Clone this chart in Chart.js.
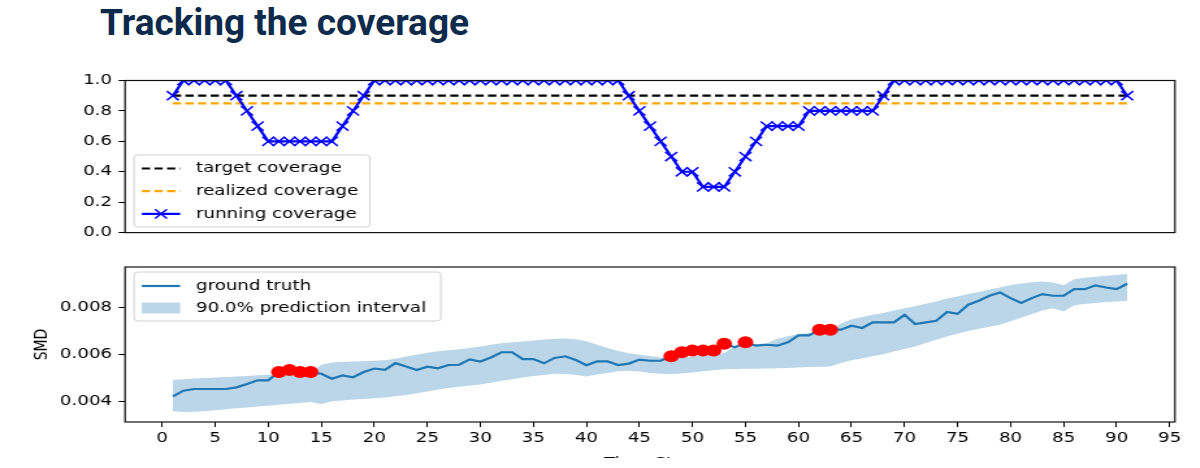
<!DOCTYPE html>
<html>
<head>
<meta charset="utf-8">
<title>Tracking the coverage</title>
<script src="https://cdn.jsdelivr.net/npm/chart.js@4.4.1/dist/chart.umd.min.js"></script>
<style>
  html, body { margin: 0; padding: 0; background: #fff; overflow: hidden; }
  body { width: 1200px; height: 468px; position: relative; }
  h1 {
    position: absolute; left: 100px; top: 1px; margin: 0;
    font: bold 37px Roboto, sans-serif; color: #0c2a4c; white-space: nowrap;
  }
  /* the original figure is stretched sideways on the slide */
  .stretch {
    position: absolute; left: 0; width: 923px; overflow: hidden;
    transform: scaleX(1.3); transform-origin: 0 0;
  }
  #topBox { top: 60px; height: 186px; }
  #botBox { top: 250px; height: 208px; }
  canvas { display: block; }
</style>
</head>
<body>
<h1>Tracking the coverage</h1>
<div class="stretch" id="topBox"><canvas id="chartTop" width="923" height="186"></canvas></div>
<div class="stretch" id="botBox"><canvas id="chartBot" width="923" height="230"></canvas></div>

<script>
// time steps
const steps = [
  1, 2, 3, 4, 5, 6, 7, 8, 9, 10, 11, 12, 13, 14, 15, 16, 17, 18, 19, 20,
  21, 22, 23, 24, 25, 26, 27, 28, 29, 30, 31, 32, 33, 34, 35, 36, 37, 38, 39, 40,
  41, 42, 43, 44, 45, 46, 47, 48, 49, 50, 51, 52, 53, 54, 55, 56, 57, 58, 59, 60,
  61, 62, 63, 64, 65, 66, 67, 68, 69, 70, 71, 72, 73, 74, 75, 76, 77, 78, 79, 80,
  81, 82, 83, 84, 85, 86, 87, 88, 89, 90, 91,
];

const targetCoverage = 0.9;
const realizedCoverage = 0.85;

const runningCoverage = [
  0.9, 1.0, 1.0, 1.0, 1.0, 1.0, 0.9, 0.8, 0.7, 0.6,
  0.6, 0.6, 0.6, 0.6, 0.6, 0.6, 0.7, 0.8, 0.9, 1.0,
  1.0, 1.0, 1.0, 1.0, 1.0, 1.0, 1.0, 1.0, 1.0, 1.0,
  1.0, 1.0, 1.0, 1.0, 1.0, 1.0, 1.0, 1.0, 1.0, 1.0,
  1.0, 1.0, 1.0, 0.9, 0.8, 0.7, 0.6, 0.5, 0.4, 0.4,
  0.3, 0.3, 0.3, 0.4, 0.5, 0.6, 0.7, 0.7, 0.7, 0.7,
  0.8, 0.8, 0.8, 0.8, 0.8, 0.8, 0.8, 0.9, 1.0, 1.0,
  1.0, 1.0, 1.0, 1.0, 1.0, 1.0, 1.0, 1.0, 1.0, 1.0,
  1.0, 1.0, 1.0, 1.0, 1.0, 1.0, 1.0, 1.0, 1.0, 1.0,
  0.9,
];

const groundTruth = [
  0.00421, 0.00445, 0.00452, 0.00452, 0.00452, 0.00452, 0.00459, 0.00473, 0.00489, 0.00489,
  0.00524, 0.00533, 0.00524, 0.00524, 0.00517, 0.00496, 0.0051, 0.00502, 0.00524, 0.00539,
  0.00533, 0.00562, 0.00548, 0.00533, 0.00547, 0.0054, 0.00554, 0.00555, 0.00578, 0.00569,
  0.00586, 0.00608, 0.00608, 0.00579, 0.00579, 0.00561, 0.00584, 0.00591, 0.00575, 0.00553,
  0.00569, 0.00569, 0.00554, 0.0056, 0.00577, 0.00572, 0.00572, 0.00591, 0.00608, 0.00615,
  0.00615, 0.00615, 0.00644, 0.00629, 0.00651, 0.00636, 0.0064, 0.00636, 0.0065, 0.0068,
  0.0068, 0.00704, 0.00704, 0.00704, 0.00721, 0.00711, 0.00735, 0.00735, 0.00735, 0.00767,
  0.00728, 0.00735, 0.00742, 0.00779, 0.00771, 0.0081, 0.00827, 0.00848, 0.00862, 0.00838,
  0.00817, 0.00838, 0.00855, 0.00848, 0.00848, 0.00876, 0.00876, 0.00892, 0.00883, 0.00876,
  0.00899,
];

const intervalUpper = [
  0.0049, 0.00493, 0.00497, 0.00499, 0.00501, 0.00503, 0.00505, 0.00507, 0.0051, 0.00513,
  0.00515, 0.00517, 0.00518, 0.0052, 0.00555, 0.00565, 0.00567, 0.00569, 0.0057, 0.00572,
  0.00574, 0.0058, 0.0059, 0.00598, 0.00606, 0.00612, 0.00617, 0.00621, 0.00626, 0.00632,
  0.0064, 0.00646, 0.00651, 0.00654, 0.00658, 0.00662, 0.00665, 0.00666, 0.00663, 0.00655,
  0.0064, 0.00626, 0.00613, 0.00604, 0.00598, 0.00592, 0.00586, 0.00584, 0.00586, 0.0059,
  0.00594, 0.00598, 0.00605, 0.00633, 0.00636, 0.00642, 0.00646, 0.00665, 0.00676, 0.00686,
  0.0069, 0.00694, 0.007, 0.0073, 0.00748, 0.00758, 0.00767, 0.00775, 0.00785, 0.00795,
  0.00803, 0.00814, 0.00824, 0.00836, 0.00845, 0.00855, 0.00864, 0.00874, 0.00883, 0.00894,
  0.009, 0.00905, 0.00908, 0.00904, 0.00892, 0.00918, 0.00924, 0.00929, 0.00933, 0.00936,
  0.0094,
];

const intervalLower = [
  0.00358, 0.00354, 0.00355, 0.00358, 0.00362, 0.00366, 0.0037, 0.00374, 0.00378, 0.00381,
  0.00385, 0.00389, 0.00393, 0.00397, 0.00388, 0.004, 0.00403, 0.00407, 0.0041, 0.00413,
  0.00416, 0.00421, 0.00427, 0.00434, 0.00442, 0.0045, 0.00456, 0.00462, 0.00467, 0.00471,
  0.00479, 0.00487, 0.00494, 0.00501, 0.00507, 0.00512, 0.00517, 0.00516, 0.00513, 0.00505,
  0.00514, 0.0052, 0.00527, 0.0053, 0.00526, 0.0052, 0.00517, 0.00516, 0.00518, 0.00522,
  0.00527, 0.00532, 0.00536, 0.00537, 0.00538, 0.00538, 0.00539, 0.0054, 0.00541, 0.00543,
  0.00546, 0.00547, 0.00548, 0.00562, 0.00574, 0.00582, 0.00592, 0.006, 0.00611, 0.00622,
  0.00633, 0.00647, 0.00661, 0.00675, 0.00687, 0.00698, 0.00708, 0.00716, 0.00725, 0.0074,
  0.00755, 0.0077, 0.00785, 0.00795, 0.00781, 0.00808, 0.00813, 0.00817, 0.00821, 0.00824,
  0.00827,
];

// steps where the ground truth falls outside the interval (red dots)
const missSteps = [11, 12, 13, 14, 48, 49, 50, 51, 52, 53, 55, 62, 63];

const xTicks = [0, 5, 10, 15, 20, 25, 30, 35, 40, 45, 50, 55, 60, 65, 70, 75, 80, 85, 90, 95];
const coverageTicks = [0, 0.2, 0.4, 0.6, 0.8, 1.0];
const smdTicks = [0.004, 0.006, 0.008];

const pts = (ys) => steps.map((x, i) => ({ x, y: ys[i] }));

Chart.defaults.font.family = "'DejaVu Sans', sans-serif";
Chart.defaults.font.size = 14;
Chart.defaults.color = "#000";
Chart.defaults.animation = false;

// axes box + matplotlib style legend
const frameLegend = {
  id: "frameLegend",
  afterDraw(chart, args, opts) {
    const { ctx, chartArea: a } = chart;
    ctx.save();
    ctx.strokeStyle = "#111";
    ctx.lineWidth = 1.2;
    ctx.strokeRect(a.left, a.top, a.right - a.left, a.bottom - a.top);

    const bx = a.left + opts.dx;
    const by = a.top + opts.dy;
    ctx.beginPath();
    if (ctx.roundRect) ctx.roundRect(bx, by, opts.w, opts.h, 3);
    else ctx.rect(bx, by, opts.w, opts.h);
    ctx.fillStyle = "rgba(255,255,255,0.8)";
    ctx.fill();
    ctx.strokeStyle = "#d0d0d0";
    ctx.lineWidth = 1;
    ctx.stroke();

    const items = chart.data.datasets.filter((d) => d.label);
    items.forEach((d, i) => {
      const cy = by + opts.first + i * opts.rowH;
      const x0 = bx + 6;
      const x1 = bx + 35.5;
      if (d.fill) {
        ctx.fillStyle = d.backgroundColor;
        ctx.fillRect(x0, cy - 5.5, x1 - x0, 11);
      } else {
        ctx.strokeStyle = d.borderColor;
        ctx.lineWidth = d.borderWidth;
        ctx.setLineDash(d.borderDash || []);
        ctx.beginPath();
        ctx.moveTo(x0, cy);
        ctx.lineTo(x1, cy);
        ctx.stroke();
        ctx.setLineDash([]);
        if (d.pointStyle === "crossRot") {
          const r = d.pointRadius * 0.707;
          const cx = (x0 + x1) / 2;
          ctx.lineWidth = d.pointBorderWidth;
          ctx.beginPath();
          ctx.moveTo(cx - r, cy - r);
          ctx.lineTo(cx + r, cy + r);
          ctx.moveTo(cx - r, cy + r);
          ctx.lineTo(cx + r, cy - r);
          ctx.stroke();
        }
      }
      ctx.fillStyle = "#000";
      ctx.font = "14px 'DejaVu Sans', sans-serif";
      ctx.textBaseline = "middle";
      ctx.textAlign = "left";
      ctx.fillText(d.label, bx + opts.textX, cy);
    });
    ctx.restore();
  },
};

const xAxis = (show) => ({
  type: "linear",
  min: -3.5,
  max: 95.5,
  display: show,
  afterBuildTicks: (s) => { s.ticks = xTicks.map((v) => ({ value: v })); },
  grid: { drawOnChartArea: false, drawTicks: true, tickLength: 5, tickColor: "#000" },
  border: { display: false },
  ticks: { padding: 3, maxRotation: 0, autoSkip: false, callback: (v) => String(v) },
});

new Chart(document.getElementById("chartTop"), {
  type: "line",
  data: {
    datasets: [
      {
        label: "target coverage",
        data: [
          { x: steps[0], y: targetCoverage },
          { x: steps[steps.length - 1], y: targetCoverage },
        ],
        borderColor: "#000000",
        borderWidth: 2.2,
        borderDash: [6.4, 3.3],
        pointRadius: 0,
        order: 2,
      },
      {
        label: "realized coverage",
        data: [
          { x: steps[0], y: realizedCoverage },
          { x: steps[steps.length - 1], y: realizedCoverage },
        ],
        borderColor: "#ffa500",
        borderWidth: 2.2,
        borderDash: [6.4, 3.3],
        pointRadius: 0,
        order: 1,
      },
      {
        label: "running coverage",
        data: pts(runningCoverage),
        borderColor: "#0000ff",
        borderWidth: 2.2,
        pointStyle: "crossRot",
        pointRadius: 6.5,
        pointBorderWidth: 1.5,
        pointBorderColor: "#0000ff",
        pointBackgroundColor: "#0000ff",
        order: 0,
      },
    ],
  },
  options: {
    responsive: false,
    layout: { padding: { top: 20.5, right: 19.2, bottom: 10.3, left: 0 } },
    plugins: {
      legend: { display: false },
      tooltip: { enabled: false },
      frameLegend: { dx: 6.9, dy: 74.5, w: 181.5, h: 72, first: 13.5, rowH: 22.7, textX: 47.7 },
    },
    scales: {
      x: xAxis(false),
      y: {
        min: 0,
        max: 1,
        afterFit: (s) => { s.width = 96.2; },
        afterBuildTicks: (s) => { s.ticks = coverageTicks.map((v) => ({ value: v })); },
        grid: { drawOnChartArea: false, drawTicks: true, tickLength: 5, tickColor: "#000" },
        border: { display: false },
        ticks: { padding: 5, callback: (v) => Number(v).toFixed(1) },
      },
    },
  },
  plugins: [frameLegend],
});

new Chart(document.getElementById("chartBot"), {
  type: "line",
  data: {
    datasets: [
      {
        label: "ground truth",
        data: pts(groundTruth),
        borderColor: "#1f77b4",
        borderWidth: 2.2,
        pointRadius: 0,
        order: 1,
      },
      {
        data: pts(intervalLower),
        borderWidth: 0,
        borderColor: "rgba(0,0,0,0)",
        pointRadius: 0,
        fill: false,
        order: 3,
      },
      {
        label: "90.0% prediction interval",
        data: pts(intervalUpper),
        borderWidth: 0,
        borderColor: "rgba(0,0,0,0)",
        backgroundColor: "rgba(31,119,180,0.3)",
        pointRadius: 0,
        fill: "-1",
        order: 2,
      },
      {
        data: missSteps.map((s) => ({ x: s, y: groundTruth[steps.indexOf(s)] })),
        showLine: false,
        pointRadius: 6,
        pointBorderWidth: 0,
        pointBackgroundColor: "#ff0000",
        borderColor: "#ff0000",
        order: 0,
      },
    ],
  },
  options: {
    responsive: false,
    layout: { padding: { top: 17, right: 19.2, bottom: 0, left: 0 } },
    plugins: {
      legend: { display: false },
      tooltip: { enabled: false },
      filler: { propagate: false },
      frameLegend: { dx: 6.9, dy: 5, w: 236, h: 49, first: 14, rowH: 22, textX: 47.7 },
    },
    scales: {
      x: {
        ...xAxis(true),
        afterFit: (s) => { s.height = 58; },
        title: { display: true, text: "Time Step", padding: { top: 0, bottom: 8.5 } },
      },
      y: {
        min: 0.00312,
        max: 0.0097,
        afterFit: (s) => { s.width = 96.2; },
        afterBuildTicks: (s) => { s.ticks = smdTicks.map((v) => ({ value: v })); },
        grid: { drawOnChartArea: false, drawTicks: true, tickLength: 5, tickColor: "#000" },
        border: { display: false },
        ticks: { padding: 5, callback: (v) => Number(v).toFixed(3) },
        title: { display: true, text: "SMD", padding: { top: 23.5, bottom: 0 } },
      },
    },
  },
  plugins: [frameLegend],
});
</script>
</body>
</html>
